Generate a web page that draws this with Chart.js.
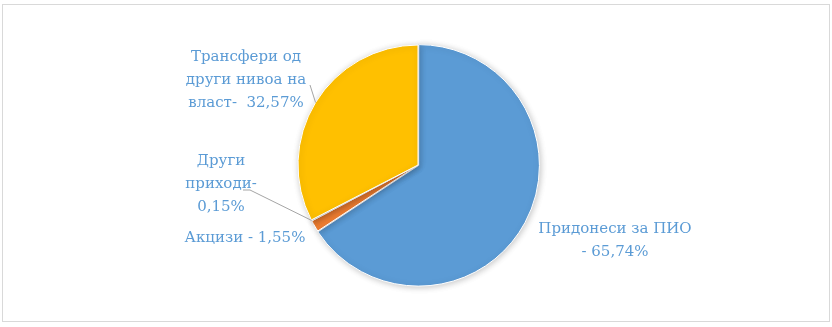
<!DOCTYPE html>
<html>
<head>
<meta charset="utf-8">
<script src="https://cdn.jsdelivr.net/npm/chart.js@4/dist/chart.umd.min.js"></script>
<style>
    html, body { margin: 0; padding: 0; background: #fff; }
    #wrap { width: 832px; height: 327px; position: relative; }
</style>
</head>
<body>
<div id="wrap"><canvas id="pieChart"></canvas></div>
<script>
// ===== Data =====
const categories = ["Придонеси за ПИО", "Акцизи", "Други приходи", "Трансфери од други нивоа на власт"];
const shares = [65.74, 1.55, 0.15, 32.57];
const sliceColors = ["#5B9BD5", "#ED7D31", "#A5A5A5", "#FFC000"];
const labelLines = [
    ["Придонеси за ПИО", "- 65,74%"],
    ["Акцизи - 1,55%"],
    ["Други", "приходи-", "0,15%"],
    ["Трансфери од", "други нивоа на", "власт-  32,57%"]
];

// label placement (text centre x, first line y) and optional leader line anchors
const labelLayout = [
    { x: 615, y: 229, leader: null },
    { x: 245, y: 238, leader: null },
    { x: 221, y: 161, leader: [[243, 190], [250, 190]] },
    { x: 246, y: 57, leader: [[310, 85]] }
];
const lineHeight = 23;
const labelColor = "#5B9BD5";
const labelFont = "15px 'DejaVu Serif', serif";

// ===== Plugins =====
const frame = {
    id: "frame",
    beforeDraw(chart) {
        const ctx = chart.ctx;
        ctx.save();
        ctx.fillStyle = "#fff";
        ctx.fillRect(0, 0, chart.width, chart.height);
        ctx.strokeStyle = "#d9d9d9";
        ctx.lineWidth = 1;
        ctx.strokeRect(2.5, 4.5, chart.width - 5, chart.height - 10);
        ctx.restore();
    },
    beforeDatasetsDraw(chart) {
        const ctx = chart.ctx;
        ctx.save();
        ctx.shadowColor = "rgba(0,0,0,0.22)";
        ctx.shadowBlur = 6;
        ctx.shadowOffsetX = 1;
        ctx.shadowOffsetY = 1;
    },
    afterDatasetsDraw(chart) {
        chart.ctx.restore();
    }
};

const pieLabels = {
    id: "pieLabels",
    afterDraw(chart) {
        const ctx = chart.ctx;
        const arcs = chart.getDatasetMeta(0).data;
        ctx.save();
        arcs.forEach((arc, i) => {
            const lay = labelLayout[i];
            if (lay.leader) {
                const p = arc.getProps(["x", "y", "startAngle", "endAngle", "outerRadius"], true);
                const mid = (p.startAngle + p.endAngle) / 2;
                const ex = p.x + Math.cos(mid) * p.outerRadius;
                const ey = p.y + Math.sin(mid) * p.outerRadius;
                ctx.strokeStyle = "#a5a5a5";
                ctx.lineWidth = 1;
                ctx.beginPath();
                ctx.moveTo(lay.leader[0][0], lay.leader[0][1]);
                lay.leader.slice(1).forEach(pt => ctx.lineTo(pt[0], pt[1]));
                ctx.lineTo(ex, ey);
                ctx.stroke();
            }
            ctx.fillStyle = labelColor;
            ctx.font = labelFont;
            ctx.textAlign = "center";
            ctx.textBaseline = "middle";
            labelLines[i].forEach((line, k) => {
                ctx.fillText(line, lay.x, lay.y + k * lineHeight);
            });
        });
        ctx.restore();
    }
};

// ===== Chart.js Initialization =====
new Chart(document.getElementById("pieChart").getContext("2d"), {
    type: "pie",
    data: {
        labels: categories,
        datasets: [{
            data: shares,
            backgroundColor: sliceColors,
            borderColor: "#ffffff",
            borderWidth: 1,
            offset: [3, 0, 0, 0]
        }]
    },
    options: {
        responsive: true,
        maintainAspectRatio: false,
        animation: false,
        layout: { padding: { top: 43, bottom: 40, left: 4, right: 0 } },
        plugins: {
            legend: { display: false },
            tooltip: { enabled: false }
        }
    },
    plugins: [frame, pieLabels]
});
</script>
</body>
</html>
